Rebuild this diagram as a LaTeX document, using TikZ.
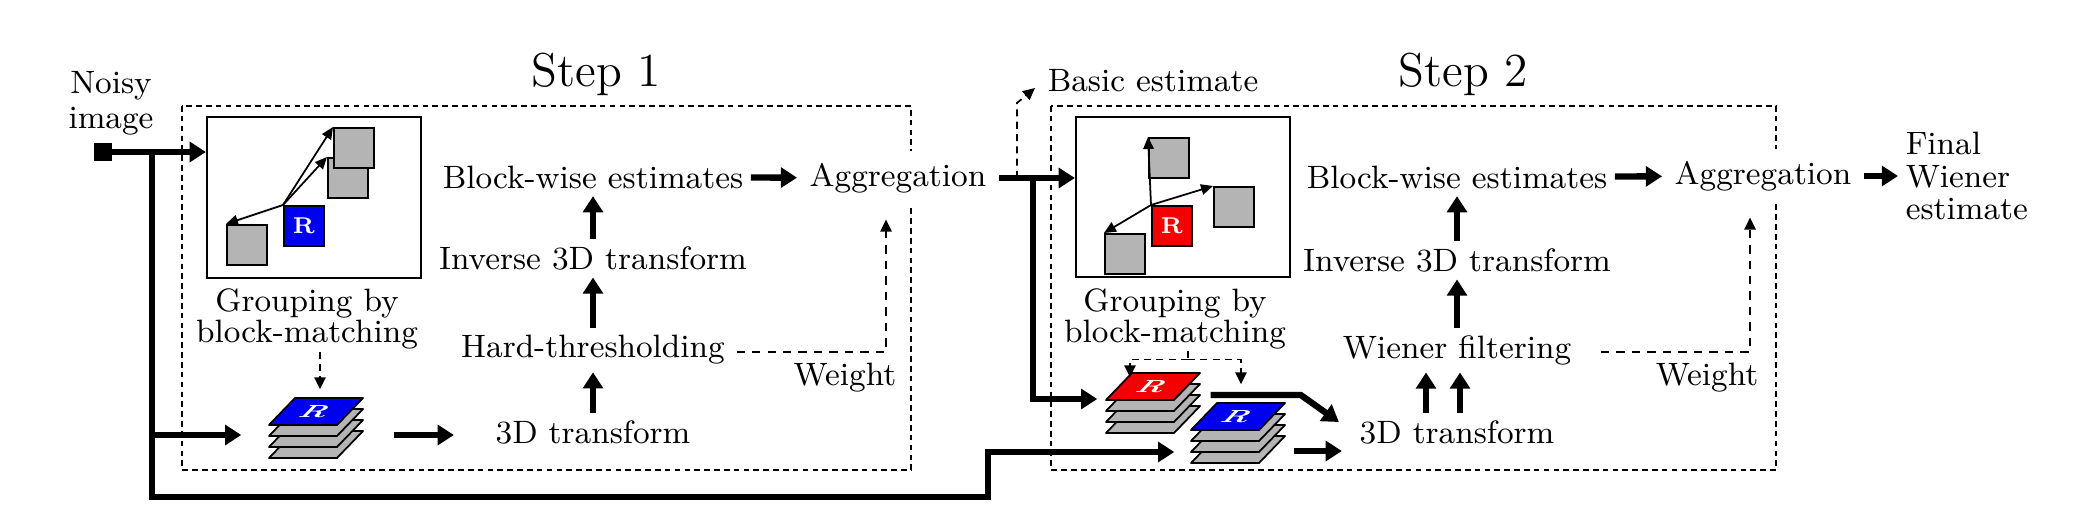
\documentclass[tikz,border=0pt]{standalone}
\usepackage{fontspec}
\usepackage{tikz}
\usetikzlibrary{arrows.meta,calc,positioning}
\definecolor{bmBlue}{RGB}{0,0,240}
\definecolor{bmRed}{RGB}{245,0,0}
\definecolor{bmGray}{RGB}{180,180,180}
\tikzset{
	txt/.style={font=\fontsize{9.2}{9.4}\selectfont, inner sep=2pt},
	stepFont/.style={font=\fontsize{13.5}{14}\selectfont, inner sep=1pt},
	patchSq/.style={draw, line width=0.5pt, fill=bmGray, minimum size=0.4cm, inner sep=0pt, anchor=north west},
	patch/.style={draw, line width=0.5pt, fill=bmGray, line join=round},
}
\tikzstyle{thickArrow} = [line width=1.8pt, -{Triangle[length=4.6pt,width=5.6pt]}]
\tikzstyle{thinArrow} = [line width=0.5pt, -{Triangle[length=3.4pt,width=3pt]}]
\tikzstyle{dashLine} = [line width=0.5pt, dash pattern=on 2pt off 1.5pt]
\tikzstyle{dashArrow} = [dashLine, -{Triangle[length=3.4pt,width=3.2pt]}]
\tikzstyle{weightArrow} = [line width=0.5pt, dash pattern=on 2.4pt off 2pt, -{Triangle[length=3.4pt,width=3.2pt]}]
\tikzstyle{stepBox} = [line width=0.45pt, dash pattern=on 1.6pt off 1.2pt]
% stack of matched blocks: x, y of front corner, colour, name
\newcommand{\layerStack}[4]{%
	\foreach \d in {33,22,11}
		\draw[patch] (#1,#2+\d) -- ++(26,-27) -- ++(68,0) -- ++(-26,27) -- cycle;
	\draw[patch, fill=#3] (#1,#2) -- ++(26,-27) -- ++(68,0) -- ++(-26,27) -- cycle;
	\node[text=white, font=\bfseries\fontsize{8}{8}\selectfont, inner sep=0pt, xslant=0.96, yscale=0.62] at (#1+47,#2-13.5) {R};
	\node[inner sep=0pt, minimum width=0.94cm, minimum height=0.6cm] (#4) at (#1+47,#2+3) {};
}

\begin{document}
\begin{tikzpicture}[x=0.01cm, y=-0.01cm]
	\fill[white] (0,0) rectangle (2079,521);
	\useasboundingbox (0,0) rectangle (2079,521);
	
	% the two steps
	\draw[stepBox] (182,106) rectangle (911,470);
	\draw[stepBox] (1051,106) rectangle (1776,470);
	\node[stepFont] (stepOne) at (596,74) {Step 1};
	\node[stepFont] (stepTwo) at (1463,74) {Step 2};
	
	% input
	\node[txt, align=center, font=\fontsize{9.2}{10}\selectfont] (noisy) at (111,103) {Noisy\\image};
	\node[fill=black, minimum size=0.17cm, inner sep=0pt] (src) at (103,152) {};
	\coordinate (jnA) at (152,152);
	\coordinate (bendA) at (988,497);
	
	% step 1: block-matching
	\node[draw, line width=0.6pt, minimum width=2.14cm, minimum height=1.61cm, inner sep=0pt] (grp1) at (314,197.5) {};
	\node[patchSq] (sqA2) at (327,157) {};
	\node[patchSq] (sqA1) at (333,127) {};
	\node[patchSq] (sqA3) at (226,224) {};
	\node[patchSq, fill=bmBlue, text=white, font=\bfseries\fontsize{6.5}{6.5}\selectfont] (refA) at (283,205) {R};
	\draw[thinArrow] (refA.north west) -- (sqA1.north west);
	\draw[thinArrow] (refA.north west) -- (sqA2.north west);
	\draw[thinArrow] (refA.north west) -- (sqA3.north west);
	\node[txt, align=center, font=\fontsize{9.2}{8.6}\selectfont] (lbl1) at (307,319) {Grouping by\\block-matching};
	\layerStack{269}{425}{bmBlue}{stA}
	\draw[dashArrow] ($(lbl1.south)+(13,-5)$) -- ($(stA.north)+(4,-8)$);
	
	% step 1: filtering column
	\node[txt] (bw1) at (593,177) {Block-wise estimates};
	\node[txt] (inv1) at (593,258) {Inverse 3D transform};
	\node[txt] (ht1) at (593,350) {Hard-thresholding};
	\node[txt] (td1) at (593,432) {3D transform};
	\node[txt, fill=white, inner sep=3.4pt] (agg1) at (898,178) {Aggregation};
	\node[txt] (wt1) at (845,378) {Weight};
	\draw[thickArrow] (td1) -- (ht1);
	\draw[thickArrow] (ht1) -- (inv1);
	\draw[thickArrow] (inv1) -- (bw1);
	\draw[thickArrow] (bw1) -- (agg1);
	\draw[weightArrow] ($(ht1.east)+(4,2)$) -| ($(agg1.south)+(-12,14)$);
	
	\draw[thickArrow] (src) -- (src -| grp1.west);
	\draw[thickArrow] (jnA) |- ($(stA.west)+(-27,7)$);
	\draw[thickArrow] ($(stA.east)+(30,7)$) -- ($(td1.west)+(-34,3)$);
	
	% step 2: block-matching on the basic estimate
	\node[draw, line width=0.6pt, minimum width=2.14cm, minimum height=1.6cm, inner sep=0pt] (grp2) at (1183,197) {};
	\node[patchSq] (sqB1) at (1148,137) {};
	\node[patchSq] (sqB2) at (1213,186) {};
	\node[patchSq] (sqB3) at (1104,233) {};
	\node[patchSq, fill=bmRed, text=white, font=\bfseries\fontsize{6.5}{6.5}\selectfont] (refB) at (1151,205) {R};
	\draw[thinArrow] (refB.north west) -- (sqB1.north west);
	\draw[thinArrow] (refB.north west) -- (sqB2.north west);
	\draw[thinArrow] (refB.north west) -- (sqB3.north west);
	\node[txt, align=center, font=\fontsize{9.2}{8.6}\selectfont] (lbl2) at (1175,319) {Grouping by\\block-matching};
	\layerStack{1106}{400}{bmRed}{stB}
	\layerStack{1191}{430}{bmBlue}{stC}
	\coordinate (brk) at ($(lbl2.south)+(13,3)$);
	\draw[dashLine] ($(lbl2.south)+(13,-6)$) -- (brk);
	\draw[dashArrow] (brk) -| ($(stB.north)+(-23,5)$);
	\draw[dashArrow] (brk) -| ($(stC.north)+(3,-18)$);
	
	\node[txt, anchor=west] (basic) at (1040,81) {Basic estimate};
	\coordinate (jnB) at (1033,178);
	\coordinate (jnC) at (1017,178);
	\draw[thickArrow] (agg1) -- (agg1 -| grp2.west);
	\draw[dashArrow] (jnC) -- ++(0,-75) -- ($(basic.west)+(-5,7)$);
	\draw[thickArrow] (jnB) |- ($(stB.west)+(-8,-4)$);
	\draw[thickArrow] (jnA) |- (bendA) |- ($(stC.west)+(-16,19)$);
	
	% step 2: filtering column
	\node[txt] (bw2) at (1457,177) {Block-wise estimates};
	\node[txt] (inv2) at (1457,260) {Inverse 3D transform};
	\node[txt] (wf2) at (1457,350) {Wiener filtering};
	\node[txt] (td2) at (1457,432) {3D transform};
	\node[txt, fill=white, inner sep=3.4pt] (agg2) at (1763,176) {Aggregation};
	\node[txt] (wt2) at (1707,378) {Weight};
	\node[txt, anchor=west, align=left, font=\fontsize{9.2}{9.3}\selectfont] (final) at (1898,176) {Final\\Wiener\\estimate};
	\draw[thickArrow] ($(stB.east)+(10,-8)$) -- ++(90,0) -- ($(td2.west)+(-13,-10)$);
	\draw[thickArrow] ($(stC.east)+(8,18)$) -- ($(td2.west)+(-10,19)$);
	\draw[thickArrow] ($(td2.north)+(-31,0)$) -- ($(wf2.south)+(-31,0)$);
	\draw[thickArrow] ($(td2.north)+(3,0)$) -- ($(wf2.south)+(3,0)$);
	\draw[thickArrow] (wf2) -- (inv2);
	\draw[thickArrow] (inv2) -- (bw2);
	\draw[thickArrow] (bw2) -- (agg2);
	\draw[thickArrow] (agg2) -- (final);
	\draw[weightArrow] ($(wf2.east)+(22,2)$) -| ($(agg2.south)+(-13,14)$);
\end{tikzpicture}
\end{document}
